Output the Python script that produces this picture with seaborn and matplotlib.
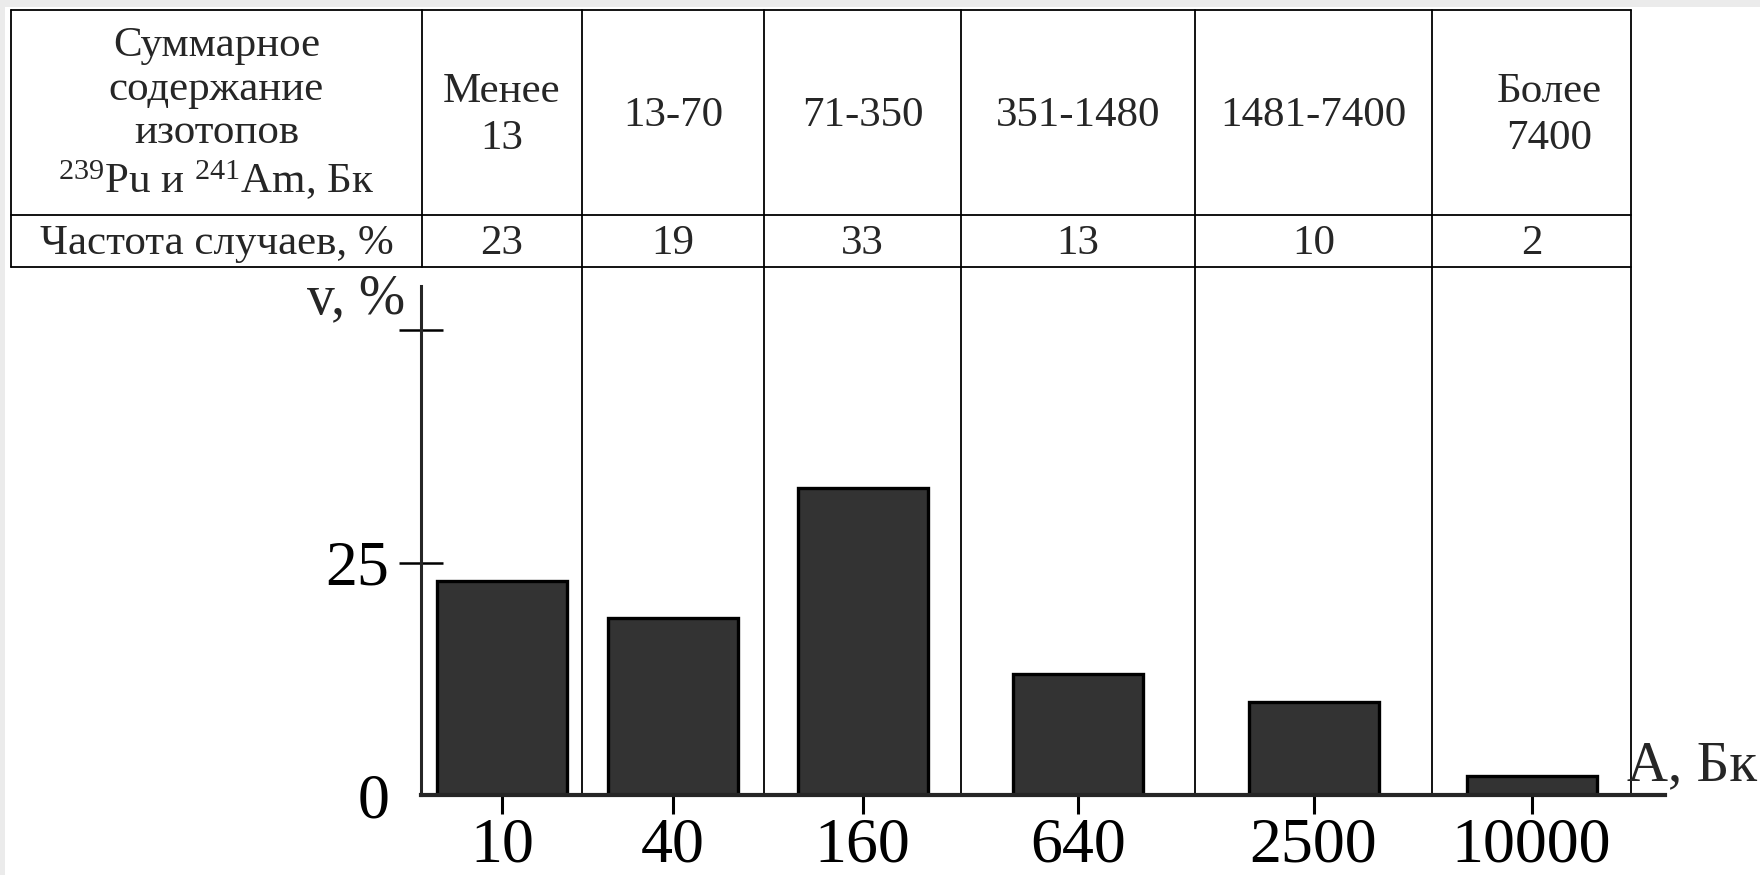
import numpy as np
import pandas as pd
import matplotlib
matplotlib.use("Agg")
import matplotlib.pyplot as plt
from matplotlib.patches import Rectangle
import seaborn as sns

# --- data -------------------------------------------------------------
ranges = ["Менее\n13", "13-70", "71-350", "351-1480", "1481-7400", "Более\n7400"]
freq = [23, 19, 33, 13, 10, 2]
a_ticks = ["10", "40", "160", "640", "2500", "10000"]
y_ticks = [0, 25, 50]
y_tick_labels = ["0", "25", ""]
header_text = "Суммарное\nсодержание\nизотопов\n$^{239}$Pu и $^{241}$Am, Бк"
row_text = "Частота случаев, %"

# --- layout (figure pixels) -------------------------------------------
W, H = 1760, 875
col_edges = np.array([11, 422, 582, 764, 961, 1195, 1432, 1631])
head_dx = [0, 0, 0, 0, 0, 18]
row_edges = [10, 215, 267]
axis_x0, axis_x1 = 421, 1665
axis_y0, axis_ytop = 795, 286
px_per_pct = 9.3
bar_px = 130

sns.set_style("ticks")
plt.rcParams["font.family"] = ["Liberation Serif", "DejaVu Serif"]
plt.rcParams["mathtext.fontset"] = "custom"
plt.rcParams["mathtext.rm"] = "Liberation Serif"
plt.rcParams["mathtext.it"] = "Liberation Serif:italic"

fig = plt.figure(figsize=(W / 100, H / 100), dpi=100, facecolor="white")

# background layer holding the table grid and texts
bg = fig.add_axes([0, 0, 1, 1], zorder=0)
bg.set_xlim(0, W)
bg.set_ylim(H, 0)
bg.axis("off")

# scanner border strips
bg.add_patch(Rectangle((0, 0), W, 7, color="#ebebeb", lw=0))
bg.add_patch(Rectangle((0, 0), 5, H, color="#ebebeb", lw=0))

lw_tab = 1.3
for y in row_edges:
    bg.plot([col_edges[0], col_edges[-1]], [y, y], color="black", lw=lw_tab)
for i, x in enumerate(col_edges):
    y_end = row_edges[-1] if i < 2 else axis_y0
    bg.plot([x, x], [row_edges[0], y_end], color="black", lw=lw_tab)

tab_fs = 31
centers = (col_edges[1:-1] + col_edges[2:]) / 2.0
head_mid = (row_edges[0] + row_edges[1]) / 2.0
val_mid = (row_edges[1] + row_edges[2]) / 2.0
first_mid = (col_edges[0] + col_edges[1]) / 2.0

bg.text(first_mid, head_mid + 2, header_text, ha="center", va="center",
        fontsize=tab_fs, linespacing=1.17, multialignment="center")
bg.text(first_mid, val_mid + 3, row_text, ha="center", va="center", fontsize=tab_fs)
for cx, dx, lab, v in zip(centers, head_dx, ranges, freq):
    bg.text(cx + dx, head_mid + 3, lab, ha="center", va="center", fontsize=tab_fs,
            linespacing=1.28, multialignment="center")
    bg.text(cx, val_mid + 3, str(v), ha="center", va="center", fontsize=tab_fs)

# --- histogram ----------------------------------------------------------
ax = fig.add_axes([axis_x0 / W, 1 - axis_y0 / H,
                   (axis_x1 - axis_x0) / W, (axis_y0 - axis_ytop) / H], zorder=1)
ax.set_facecolor("none")

df = pd.DataFrame({"pos": centers, "freq": freq})
bar_width = bar_px / np.diff(centers).min()
sns.barplot(data=df, x="pos", y="freq", native_scale=True, width=bar_width,
            color="#333333", saturation=1, edgecolor="black", linewidth=2.4,
            errorbar=None, ax=ax)

ax.set_xlim(axis_x0, axis_x1)
ax.set_ylim(0, (axis_y0 - axis_ytop) / px_per_pct)
ax.set_xticks(centers, labels=a_ticks)
ax.set_yticks(y_ticks, labels=y_tick_labels)

for side in ("top", "right"):
    ax.spines[side].set_visible(False)
ax.spines["left"].set_linewidth(2.2)
ax.spines["bottom"].set_linewidth(3.0)

ax.tick_params(axis="x", direction="inout", length=27, width=2.2, pad=3,
               labelsize=46, colors="black")
ax.tick_params(axis="y", direction="inout", length=32, width=1.8, pad=7,
               labelsize=46, colors="black")
ax.yaxis.get_major_ticks()[0].tick1line.set_visible(False)

ax.set_xlabel("A, Бк", fontsize=41)
ax.xaxis.set_label_coords((1627 - axis_x0) / (axis_x1 - axis_x0),
                          (axis_y0 - 780) / (axis_y0 - axis_ytop))
ax.xaxis.label.set_ha("left")
ax.xaxis.label.set_va("baseline")

ax.set_ylabel("v, %", fontsize=40, rotation=0)
ax.yaxis.set_label_coords((405 - axis_x0) / (axis_x1 - axis_x0),
                          (axis_y0 - 313) / (axis_y0 - axis_ytop))
ax.yaxis.label.set_ha("right")
ax.yaxis.label.set_va("baseline")

fig.savefig("out.png", dpi=100, facecolor="white")
